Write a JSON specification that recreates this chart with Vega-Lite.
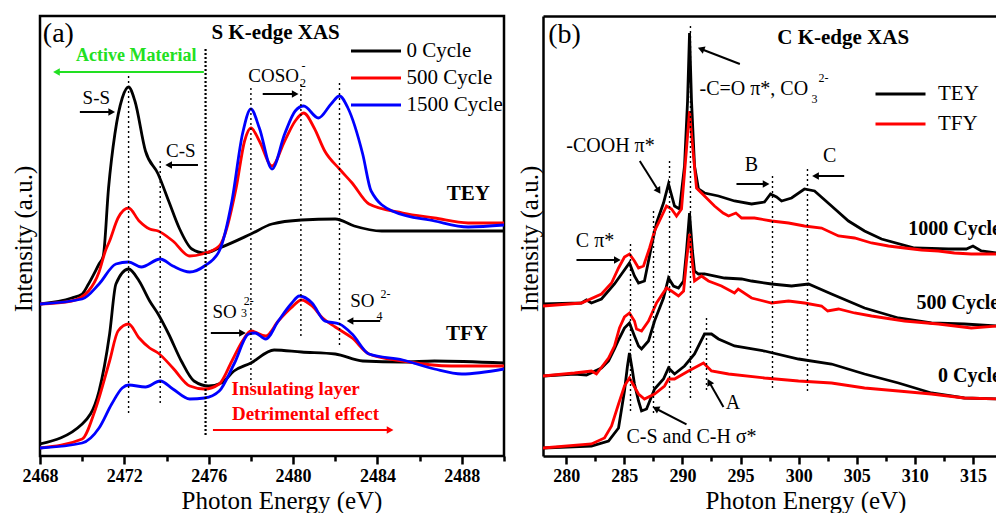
{
  "$schema": "https://vega.github.io/schema/vega-lite/v6.json",
  "padding": {"left": 10, "top": 14, "right": 0, "bottom": 0},
  "spacing": 39,
  "bounds": "flush",
  "resolve": {"scale": {"color": "independent"}},
  "config": {
    "font": "Liberation Serif, Times New Roman, serif",
    "text": {"font": "Liberation Serif, Times New Roman, serif"},
    "axis": {"grid": false, "domainColor": "black", "domainWidth": 2.5, "tickColor": "black", "tickWidth": 2.5, "labelColor": "black", "titleColor": "black", "labelFont": "Liberation Serif, Times New Roman, serif", "titleFont": "Liberation Serif, Times New Roman, serif", "labelFontSize": 18, "labelFontWeight": "bold", "titleFontSize": 25, "titleFontWeight": "normal", "labelPadding": 3, "labelFlush": false, "labelOverlap": false},
    "legend": {"labelFont": "Liberation Serif, Times New Roman, serif", "labelColor": "black", "labelFontSize": 21, "padding": 0, "title": null}
  },
  "datasets": {
    "sk": [
      {"E":2468,"I":15.4,"cycle":"0 Cycle","mode":"TEY"},{"E":2469.5,"I":16.0,"cycle":"0 Cycle","mode":"TEY"},{"E":2470,"I":16.4,"cycle":"0 Cycle","mode":"TEY"},{"E":2470.3,"I":17.4,"cycle":"0 Cycle","mode":"TEY"},{"E":2470.8,"I":19.4,"cycle":"0 Cycle","mode":"TEY"},{"E":2471.0,"I":20.2,"cycle":"0 Cycle","mode":"TEY"},{"E":2471.25,"I":27.0,"cycle":"0 Cycle","mode":"TEY"},{"E":2471.55,"I":32.4,"cycle":"0 Cycle","mode":"TEY"},{"E":2471.9,"I":36.0,"cycle":"0 Cycle","mode":"TEY"},{"E":2472.2,"I":37.1,"cycle":"0 Cycle","mode":"TEY"},{"E":2472.5,"I":35.7,"cycle":"0 Cycle","mode":"TEY"},{"E":2473.0,"I":30.7,"cycle":"0 Cycle","mode":"TEY"},{"E":2473.6,"I":28.4,"cycle":"0 Cycle","mode":"TEY"},{"E":2474.1,"I":25.7,"cycle":"0 Cycle","mode":"TEY"},{"E":2474.6,"I":23.0,"cycle":"0 Cycle","mode":"TEY"},{"E":2475.2,"I":20.9,"cycle":"0 Cycle","mode":"TEY"},{"E":2475.8,"I":20.5,"cycle":"0 Cycle","mode":"TEY"},{"E":2476.5,"I":21.0,"cycle":"0 Cycle","mode":"TEY"},{"E":2478.0,"I":22.4,"cycle":"0 Cycle","mode":"TEY"},{"E":2479.0,"I":23.4,"cycle":"0 Cycle","mode":"TEY"},{"E":2480.4,"I":23.8,"cycle":"0 Cycle","mode":"TEY"},{"E":2482.0,"I":23.9,"cycle":"0 Cycle","mode":"TEY"},{"E":2482.9,"I":23.2,"cycle":"0 Cycle","mode":"TEY"},{"E":2484.2,"I":22.7,"cycle":"0 Cycle","mode":"TEY"},{"E":2490,"I":22.7,"cycle":"0 Cycle","mode":"TEY"},
      {"E":2468,"I":1.4,"cycle":"0 Cycle","mode":"TFY"},{"E":2470,"I":3.4,"cycle":"0 Cycle","mode":"TFY"},{"E":2470.8,"I":6.7,"cycle":"0 Cycle","mode":"TFY"},{"E":2471.3,"I":12.4,"cycle":"0 Cycle","mode":"TFY"},{"E":2471.6,"I":17.4,"cycle":"0 Cycle","mode":"TFY"},{"E":2472.2,"I":18.9,"cycle":"0 Cycle","mode":"TFY"},{"E":2472.7,"I":17.7,"cycle":"0 Cycle","mode":"TFY"},{"E":2473.2,"I":15.7,"cycle":"0 Cycle","mode":"TFY"},{"E":2473.6,"I":14.4,"cycle":"0 Cycle","mode":"TFY"},{"E":2474.1,"I":12.4,"cycle":"0 Cycle","mode":"TFY"},{"E":2474.7,"I":9.7,"cycle":"0 Cycle","mode":"TFY"},{"E":2475.3,"I":7.7,"cycle":"0 Cycle","mode":"TFY"},{"E":2476.0,"I":7.2,"cycle":"0 Cycle","mode":"TFY"},{"E":2476.6,"I":7.5,"cycle":"0 Cycle","mode":"TFY"},{"E":2477.2,"I":8.7,"cycle":"0 Cycle","mode":"TFY"},{"E":2478.0,"I":9.5,"cycle":"0 Cycle","mode":"TFY"},{"E":2479.1,"I":10.8,"cycle":"0 Cycle","mode":"TFY"},{"E":2480.4,"I":10.6,"cycle":"0 Cycle","mode":"TFY"},{"E":2482.0,"I":10.4,"cycle":"0 Cycle","mode":"TFY"},{"E":2483.3,"I":9.7,"cycle":"0 Cycle","mode":"TFY"},{"E":2485.2,"I":9.6,"cycle":"0 Cycle","mode":"TFY"},{"E":2486.7,"I":9.7,"cycle":"0 Cycle","mode":"TFY"},{"E":2490,"I":9.5,"cycle":"0 Cycle","mode":"TFY"},
      {"E":2468,"I":15.4,"cycle":"500 Cycle","mode":"TEY"},{"E":2469.5,"I":15.7,"cycle":"500 Cycle","mode":"TEY"},{"E":2470.3,"I":16.7,"cycle":"500 Cycle","mode":"TEY"},{"E":2470.8,"I":18.6,"cycle":"500 Cycle","mode":"TEY"},{"E":2471.1,"I":20.7,"cycle":"500 Cycle","mode":"TEY"},{"E":2471.3,"I":21.7,"cycle":"500 Cycle","mode":"TEY"},{"E":2471.7,"I":24.0,"cycle":"500 Cycle","mode":"TEY"},{"E":2472.2,"I":25.0,"cycle":"500 Cycle","mode":"TEY"},{"E":2472.7,"I":23.7,"cycle":"500 Cycle","mode":"TEY"},{"E":2473.2,"I":22.9,"cycle":"500 Cycle","mode":"TEY"},{"E":2473.6,"I":22.7,"cycle":"500 Cycle","mode":"TEY"},{"E":2474.3,"I":21.7,"cycle":"500 Cycle","mode":"TEY"},{"E":2475.1,"I":20.2,"cycle":"500 Cycle","mode":"TEY"},{"E":2475.7,"I":20.4,"cycle":"500 Cycle","mode":"TEY"},{"E":2476.5,"I":21.2,"cycle":"500 Cycle","mode":"TEY"},{"E":2477.3,"I":27.0,"cycle":"500 Cycle","mode":"TEY"},{"E":2477.7,"I":31.7,"cycle":"500 Cycle","mode":"TEY"},{"E":2478.0,"I":33.0,"cycle":"500 Cycle","mode":"TEY"},{"E":2478.4,"I":31.7,"cycle":"500 Cycle","mode":"TEY"},{"E":2479.0,"I":29.2,"cycle":"500 Cycle","mode":"TEY"},{"E":2479.6,"I":31.7,"cycle":"500 Cycle","mode":"TEY"},{"E":2480.1,"I":33.7,"cycle":"500 Cycle","mode":"TEY"},{"E":2480.5,"I":34.5,"cycle":"500 Cycle","mode":"TEY"},{"E":2481.0,"I":33.0,"cycle":"500 Cycle","mode":"TEY"},{"E":2481.5,"I":30.7,"cycle":"500 Cycle","mode":"TEY"},{"E":2482.2,"I":28.9,"cycle":"500 Cycle","mode":"TEY"},{"E":2482.8,"I":27.5,"cycle":"500 Cycle","mode":"TEY"},{"E":2483.6,"I":25.4,"cycle":"500 Cycle","mode":"TEY"},{"E":2485.2,"I":24.5,"cycle":"500 Cycle","mode":"TEY"},{"E":2486.7,"I":24.0,"cycle":"500 Cycle","mode":"TEY"},{"E":2488.3,"I":23.5,"cycle":"500 Cycle","mode":"TEY"},{"E":2490,"I":23.5,"cycle":"500 Cycle","mode":"TEY"},
      {"E":2468,"I":1.0,"cycle":"500 Cycle","mode":"TFY"},{"E":2470,"I":1.9,"cycle":"500 Cycle","mode":"TFY"},{"E":2470.6,"I":4.7,"cycle":"500 Cycle","mode":"TFY"},{"E":2471.3,"I":9.7,"cycle":"500 Cycle","mode":"TFY"},{"E":2471.7,"I":12.7,"cycle":"500 Cycle","mode":"TFY"},{"E":2472.2,"I":13.4,"cycle":"500 Cycle","mode":"TFY"},{"E":2472.7,"I":12.0,"cycle":"500 Cycle","mode":"TFY"},{"E":2473.2,"I":11.0,"cycle":"500 Cycle","mode":"TFY"},{"E":2473.6,"I":10.5,"cycle":"500 Cycle","mode":"TFY"},{"E":2474.3,"I":9.0,"cycle":"500 Cycle","mode":"TFY"},{"E":2475.1,"I":7.2,"cycle":"500 Cycle","mode":"TFY"},{"E":2475.8,"I":6.9,"cycle":"500 Cycle","mode":"TFY"},{"E":2476.5,"I":7.4,"cycle":"500 Cycle","mode":"TFY"},{"E":2477.1,"I":9.7,"cycle":"500 Cycle","mode":"TFY"},{"E":2477.6,"I":11.7,"cycle":"500 Cycle","mode":"TFY"},{"E":2478.0,"I":12.7,"cycle":"500 Cycle","mode":"TFY"},{"E":2478.7,"I":12.2,"cycle":"500 Cycle","mode":"TFY"},{"E":2479.3,"I":13.7,"cycle":"500 Cycle","mode":"TFY"},{"E":2479.9,"I":15.0,"cycle":"500 Cycle","mode":"TFY"},{"E":2480.4,"I":15.8,"cycle":"500 Cycle","mode":"TFY"},{"E":2480.9,"I":15.2,"cycle":"500 Cycle","mode":"TFY"},{"E":2481.4,"I":14.0,"cycle":"500 Cycle","mode":"TFY"},{"E":2482.0,"I":13.1,"cycle":"500 Cycle","mode":"TFY"},{"E":2482.8,"I":12.0,"cycle":"500 Cycle","mode":"TFY"},{"E":2483.6,"I":10.4,"cycle":"500 Cycle","mode":"TFY"},{"E":2485.2,"I":9.7,"cycle":"500 Cycle","mode":"TFY"},{"E":2487.5,"I":9.2,"cycle":"500 Cycle","mode":"TFY"},{"E":2490,"I":9.2,"cycle":"500 Cycle","mode":"TFY"},
      {"E":2468,"I":15.4,"cycle":"1500 Cycle","mode":"TEY"},{"E":2470,"I":15.9,"cycle":"1500 Cycle","mode":"TEY"},{"E":2470.8,"I":17.4,"cycle":"1500 Cycle","mode":"TEY"},{"E":2471.6,"I":19.4,"cycle":"1500 Cycle","mode":"TEY"},{"E":2472.2,"I":19.6,"cycle":"1500 Cycle","mode":"TEY"},{"E":2472.8,"I":19.1,"cycle":"1500 Cycle","mode":"TEY"},{"E":2473.7,"I":19.9,"cycle":"1500 Cycle","mode":"TEY"},{"E":2474.3,"I":19.2,"cycle":"1500 Cycle","mode":"TEY"},{"E":2475.1,"I":18.6,"cycle":"1500 Cycle","mode":"TEY"},{"E":2475.8,"I":19.2,"cycle":"1500 Cycle","mode":"TEY"},{"E":2476.5,"I":20.7,"cycle":"1500 Cycle","mode":"TEY"},{"E":2477.1,"I":25.7,"cycle":"1500 Cycle","mode":"TEY"},{"E":2477.6,"I":32.4,"cycle":"1500 Cycle","mode":"TEY"},{"E":2478.0,"I":34.9,"cycle":"1500 Cycle","mode":"TEY"},{"E":2478.4,"I":33.0,"cycle":"1500 Cycle","mode":"TEY"},{"E":2479.0,"I":28.9,"cycle":"1500 Cycle","mode":"TEY"},{"E":2479.6,"I":32.4,"cycle":"1500 Cycle","mode":"TEY"},{"E":2480.1,"I":34.7,"cycle":"1500 Cycle","mode":"TEY"},{"E":2480.5,"I":35.2,"cycle":"1500 Cycle","mode":"TEY"},{"E":2481.2,"I":34.0,"cycle":"1500 Cycle","mode":"TEY"},{"E":2481.8,"I":35.4,"cycle":"1500 Cycle","mode":"TEY"},{"E":2482.2,"I":36.2,"cycle":"1500 Cycle","mode":"TEY"},{"E":2482.6,"I":35.0,"cycle":"1500 Cycle","mode":"TEY"},{"E":2483.3,"I":30.4,"cycle":"1500 Cycle","mode":"TEY"},{"E":2483.7,"I":26.7,"cycle":"1500 Cycle","mode":"TEY"},{"E":2484.7,"I":24.7,"cycle":"1500 Cycle","mode":"TEY"},{"E":2486.7,"I":23.7,"cycle":"1500 Cycle","mode":"TEY"},{"E":2488.3,"I":23.1,"cycle":"1500 Cycle","mode":"TEY"},{"E":2490,"I":23.3,"cycle":"1500 Cycle","mode":"TEY"},
      {"E":2468,"I":1.0,"cycle":"1500 Cycle","mode":"TFY"},{"E":2470,"I":1.5,"cycle":"1500 Cycle","mode":"TFY"},{"E":2470.8,"I":3.0,"cycle":"1500 Cycle","mode":"TFY"},{"E":2471.4,"I":5.4,"cycle":"1500 Cycle","mode":"TFY"},{"E":2471.9,"I":7.0,"cycle":"1500 Cycle","mode":"TFY"},{"E":2472.2,"I":7.3,"cycle":"1500 Cycle","mode":"TFY"},{"E":2473.0,"I":7.1,"cycle":"1500 Cycle","mode":"TFY"},{"E":2473.7,"I":7.7,"cycle":"1500 Cycle","mode":"TFY"},{"E":2474.3,"I":6.9,"cycle":"1500 Cycle","mode":"TFY"},{"E":2475.1,"I":5.9,"cycle":"1500 Cycle","mode":"TFY"},{"E":2475.8,"I":6.0,"cycle":"1500 Cycle","mode":"TFY"},{"E":2476.5,"I":6.7,"cycle":"1500 Cycle","mode":"TFY"},{"E":2477.2,"I":9.4,"cycle":"1500 Cycle","mode":"TFY"},{"E":2477.9,"I":12.4,"cycle":"1500 Cycle","mode":"TFY"},{"E":2478.2,"I":12.5,"cycle":"1500 Cycle","mode":"TFY"},{"E":2478.7,"I":11.9,"cycle":"1500 Cycle","mode":"TFY"},{"E":2479.3,"I":13.7,"cycle":"1500 Cycle","mode":"TFY"},{"E":2479.9,"I":15.4,"cycle":"1500 Cycle","mode":"TFY"},{"E":2480.3,"I":16.2,"cycle":"1500 Cycle","mode":"TFY"},{"E":2480.9,"I":15.5,"cycle":"1500 Cycle","mode":"TFY"},{"E":2481.5,"I":13.7,"cycle":"1500 Cycle","mode":"TFY"},{"E":2482.2,"I":13.4,"cycle":"1500 Cycle","mode":"TFY"},{"E":2482.8,"I":12.4,"cycle":"1500 Cycle","mode":"TFY"},{"E":2483.6,"I":10.4,"cycle":"1500 Cycle","mode":"TFY"},{"E":2485.2,"I":9.8,"cycle":"1500 Cycle","mode":"TFY"},{"E":2486.7,"I":8.9,"cycle":"1500 Cycle","mode":"TFY"},{"E":2488.0,"I":8.4,"cycle":"1500 Cycle","mode":"TFY"},{"E":2490,"I":8.9,"cycle":"1500 Cycle","mode":"TFY"}
    ],
    "va": [
      {"x":2472.2,"y":38.2,"y2":4.2,"kind":"peak"},
      {"x":2473.7,"y":29.7,"y2":5.4,"kind":"peak"},
      {"x":2475.85,"y":40.9,"y2":2.2,"kind":"boundary"},
      {"x":2478.0,"y":37.0,"y2":7.2,"kind":"peak"},
      {"x":2480.37,"y":37.4,"y2":12.0,"kind":"peak"},
      {"x":2482.2,"y":37.5,"y2":11.0,"kind":"peak"}
    ],
    "aa": [
      {"x":2475.77,"y":38.6,"x2":2468.78,"y2":38.6,"angle":270,"tone":"active"},
      {"x":2469.89,"y":34.6,"x2":2471.4,"y2":34.6,"angle":90,"tone":"label"},
      {"x":2475.49,"y":29.3,"x2":2474.1,"y2":29.3,"angle":270,"tone":"label"},
      {"x":2478.56,"y":36.4,"x2":2480.1,"y2":36.4,"angle":90,"tone":"label"},
      {"x":2476.1,"y":12.5,"x2":2477.6,"y2":12.5,"angle":90,"tone":"label"},
      {"x":2484.13,"y":13.7,"x2":2482.7,"y2":13.7,"angle":270,"tone":"label"},
      {"x":2476.2,"y":2.8,"x2":2484.6,"y2":2.8,"angle":90,"tone":"detriment"}
    ],
    "ta": [
      {"x":2468.87,"y":42.4,"text":"(a)","kind":"panel"},
      {"x":2479.17,"y":42.5,"text":"S K-edge XAS","kind":"title"},
      {"x":2472.56,"y":40.2,"text":"Active Material","kind":"active"},
      {"x":2470.67,"y":36.05,"text":"S-S","kind":"label"},
      {"x":2474.68,"y":30.7,"text":"C-S","kind":"label"},
      {"x":2479.08,"y":38.25,"text":"COSO","kind":"label"},
      {"x":2480.33,"y":37.5,"text":"2","kind":"script"},
      {"x":2480.4,"y":39.2,"text":"-","kind":"script"},
      {"x":2476.75,"y":14.6,"text":"SO","kind":"label"},
      {"x":2477.53,"y":14.5,"text":"3","kind":"script"},
      {"x":2477.66,"y":15.7,"text":"2-","kind":"script"},
      {"x":2483.28,"y":15.7,"text":"SO","kind":"label"},
      {"x":2483.96,"y":14.2,"text":"4","kind":"script"},
      {"x":2484.15,"y":16.4,"text":"2-","kind":"script"},
      {"x":2488.31,"y":26.45,"text":"TEY","kind":"mode"},
      {"x":2488.24,"y":12.45,"text":"TFY","kind":"mode"},
      {"x":2480.12,"y":6.9,"text":"Insulating layer","kind":"detriment"},
      {"x":2480.59,"y":4.4,"text":"Detrimental effect","kind":"detriment"}
    ],
    "kc": [
      {"E":278.0,"I":15.4,"mode":"TEY","cycle":"1000"},{"E":281.31,"I":15.5,"mode":"TEY","cycle":"1000"},{"E":281.74,"I":15.8,"mode":"TEY","cycle":"1000"},{"E":282.17,"I":15.5,"mode":"TEY","cycle":"1000"},{"E":283.03,"I":15.9,"mode":"TEY","cycle":"1000"},{"E":284.15,"I":17.4,"mode":"TEY","cycle":"1000"},{"E":284.76,"I":18.4,"mode":"TEY","cycle":"1000"},{"E":285.44,"I":19.5,"mode":"TEY","cycle":"1000"},{"E":285.87,"I":18.2,"mode":"TEY","cycle":"1000"},{"E":286.22,"I":17.5,"mode":"TEY","cycle":"1000"},{"E":286.73,"I":17.7,"mode":"TEY","cycle":"1000"},{"E":287.34,"I":21.2,"mode":"TEY","cycle":"1000"},{"E":287.77,"I":23.5,"mode":"TEY","cycle":"1000"},{"E":288.37,"I":25.5,"mode":"TEY","cycle":"1000"},{"E":288.8,"I":27.4,"mode":"TEY","cycle":"1000"},{"E":289.32,"I":25.2,"mode":"TEY","cycle":"1000"},{"E":289.75,"I":24.9,"mode":"TEY","cycle":"1000"},{"E":290.18,"I":29.2,"mode":"TEY","cycle":"1000"},{"E":290.44,"I":35.7,"mode":"TEY","cycle":"1000"},{"E":290.61,"I":42.5,"mode":"TEY","cycle":"1000"},{"E":290.78,"I":35.7,"mode":"TEY","cycle":"1000"},{"E":291.04,"I":29.2,"mode":"TEY","cycle":"1000"},{"E":291.38,"I":26.9,"mode":"TEY","cycle":"1000"},{"E":291.9,"I":26.5,"mode":"TEY","cycle":"1000"},{"E":293.1,"I":26.2,"mode":"TEY","cycle":"1000"},{"E":294.48,"I":25.7,"mode":"TEY","cycle":"1000"},{"E":295.95,"I":25.4,"mode":"TEY","cycle":"1000"},{"E":297.06,"I":25.6,"mode":"TEY","cycle":"1000"},{"E":297.58,"I":26.4,"mode":"TEY","cycle":"1000"},{"E":298.1,"I":26.1,"mode":"TEY","cycle":"1000"},{"E":298.53,"I":25.7,"mode":"TEY","cycle":"1000"},{"E":299.39,"I":26.0,"mode":"TEY","cycle":"1000"},{"E":300.5,"I":26.9,"mode":"TEY","cycle":"1000"},{"E":301.37,"I":26.7,"mode":"TEY","cycle":"1000"},{"E":302.83,"I":25.2,"mode":"TEY","cycle":"1000"},{"E":304.29,"I":23.7,"mode":"TEY","cycle":"1000"},{"E":305.67,"I":22.7,"mode":"TEY","cycle":"1000"},{"E":307.13,"I":21.9,"mode":"TEY","cycle":"1000"},{"E":309.97,"I":21.0,"mode":"TEY","cycle":"1000"},{"E":312.89,"I":20.9,"mode":"TEY","cycle":"1000"},{"E":314.43,"I":20.9,"mode":"TEY","cycle":"1000"},{"E":315.0,"I":21.2,"mode":"TEY","cycle":"1000"},{"E":315.72,"I":20.7,"mode":"TEY","cycle":"1000"},{"E":317.1,"I":20.5,"mode":"TEY","cycle":"1000"},
      {"E":278.0,"I":8.2,"mode":"TEY","cycle":"500"},{"E":280.71,"I":8.4,"mode":"TEY","cycle":"500"},{"E":281.74,"I":8.3,"mode":"TEY","cycle":"500"},{"E":283.03,"I":9.0,"mode":"TEY","cycle":"500"},{"E":283.64,"I":9.7,"mode":"TEY","cycle":"500"},{"E":284.15,"I":10.9,"mode":"TEY","cycle":"500"},{"E":284.58,"I":12.0,"mode":"TEY","cycle":"500"},{"E":285.01,"I":13.0,"mode":"TEY","cycle":"500"},{"E":285.44,"I":13.5,"mode":"TEY","cycle":"500"},{"E":285.87,"I":12.2,"mode":"TEY","cycle":"500"},{"E":286.22,"I":11.2,"mode":"TEY","cycle":"500"},{"E":286.48,"I":10.9,"mode":"TEY","cycle":"500"},{"E":287.08,"I":11.7,"mode":"TEY","cycle":"500"},{"E":287.6,"I":13.7,"mode":"TEY","cycle":"500"},{"E":288.37,"I":16.0,"mode":"TEY","cycle":"500"},{"E":288.8,"I":18.0,"mode":"TEY","cycle":"500"},{"E":289.23,"I":17.2,"mode":"TEY","cycle":"500"},{"E":289.66,"I":17.0,"mode":"TEY","cycle":"500"},{"E":290.1,"I":17.7,"mode":"TEY","cycle":"500"},{"E":290.35,"I":20.7,"mode":"TEY","cycle":"500"},{"E":290.61,"I":24.5,"mode":"TEY","cycle":"500"},{"E":290.86,"I":20.7,"mode":"TEY","cycle":"500"},{"E":291.04,"I":18.7,"mode":"TEY","cycle":"500"},{"E":291.38,"I":18.4,"mode":"TEY","cycle":"500"},{"E":291.9,"I":18.4,"mode":"TEY","cycle":"500"},{"E":293.62,"I":18.0,"mode":"TEY","cycle":"500"},{"E":295.09,"I":17.9,"mode":"TEY","cycle":"500"},{"E":295.95,"I":17.7,"mode":"TEY","cycle":"500"},{"E":297.67,"I":17.4,"mode":"TEY","cycle":"500"},{"E":299.39,"I":17.2,"mode":"TEY","cycle":"500"},{"E":300.85,"I":17.4,"mode":"TEY","cycle":"500"},{"E":302.83,"I":16.4,"mode":"TEY","cycle":"500"},{"E":305.67,"I":15.0,"mode":"TEY","cycle":"500"},{"E":308.59,"I":14.0,"mode":"TEY","cycle":"500"},{"E":311.43,"I":13.5,"mode":"TEY","cycle":"500"},{"E":314.26,"I":13.4,"mode":"TEY","cycle":"500"},{"E":317.1,"I":13.2,"mode":"TEY","cycle":"500"},
      {"E":278.0,"I":1.0,"mode":"TEY","cycle":"0"},{"E":282.17,"I":1.2,"mode":"TEY","cycle":"0"},{"E":283.64,"I":1.7,"mode":"TEY","cycle":"0"},{"E":284.5,"I":3.0,"mode":"TEY","cycle":"0"},{"E":285.01,"I":6.7,"mode":"TEY","cycle":"0"},{"E":285.27,"I":9.2,"mode":"TEY","cycle":"0"},{"E":285.44,"I":10.5,"mode":"TEY","cycle":"0"},{"E":285.7,"I":8.7,"mode":"TEY","cycle":"0"},{"E":285.87,"I":7.4,"mode":"TEY","cycle":"0"},{"E":286.22,"I":5.7,"mode":"TEY","cycle":"0"},{"E":286.48,"I":4.7,"mode":"TEY","cycle":"0"},{"E":286.91,"I":4.9,"mode":"TEY","cycle":"0"},{"E":287.6,"I":6.9,"mode":"TEY","cycle":"0"},{"E":288.37,"I":7.9,"mode":"TEY","cycle":"0"},{"E":288.8,"I":9.0,"mode":"TEY","cycle":"0"},{"E":289.32,"I":8.4,"mode":"TEY","cycle":"0"},{"E":290.18,"I":9.2,"mode":"TEY","cycle":"0"},{"E":291.04,"I":10.4,"mode":"TEY","cycle":"0"},{"E":291.9,"I":12.4,"mode":"TEY","cycle":"0"},{"E":292.5,"I":12.4,"mode":"TEY","cycle":"0"},{"E":293.1,"I":11.9,"mode":"TEY","cycle":"0"},{"E":294.48,"I":11.2,"mode":"TEY","cycle":"0"},{"E":297.06,"I":10.7,"mode":"TEY","cycle":"0"},{"E":299.99,"I":9.9,"mode":"TEY","cycle":"0"},{"E":302.83,"I":9.4,"mode":"TEY","cycle":"0"},{"E":305.67,"I":8.4,"mode":"TEY","cycle":"0"},{"E":308.59,"I":7.5,"mode":"TEY","cycle":"0"},{"E":311.43,"I":6.5,"mode":"TEY","cycle":"0"},{"E":314.26,"I":6.0,"mode":"TEY","cycle":"0"},{"E":317.1,"I":5.9,"mode":"TEY","cycle":"0"},
      {"E":278.0,"I":15.2,"mode":"TFY","cycle":"1000"},{"E":281.31,"I":15.5,"mode":"TFY","cycle":"1000"},{"E":283.03,"I":16.4,"mode":"TFY","cycle":"1000"},{"E":283.9,"I":17.5,"mode":"TFY","cycle":"1000"},{"E":284.5,"I":19.0,"mode":"TFY","cycle":"1000"},{"E":285.01,"I":20.1,"mode":"TFY","cycle":"1000"},{"E":285.44,"I":20.4,"mode":"TFY","cycle":"1000"},{"E":285.87,"I":19.7,"mode":"TFY","cycle":"1000"},{"E":286.22,"I":19.0,"mode":"TFY","cycle":"1000"},{"E":286.65,"I":19.2,"mode":"TFY","cycle":"1000"},{"E":287.17,"I":21.0,"mode":"TFY","cycle":"1000"},{"E":287.6,"I":22.7,"mode":"TFY","cycle":"1000"},{"E":287.94,"I":23.5,"mode":"TFY","cycle":"1000"},{"E":288.63,"I":25.2,"mode":"TFY","cycle":"1000"},{"E":289.06,"I":24.9,"mode":"TFY","cycle":"1000"},{"E":289.49,"I":24.2,"mode":"TFY","cycle":"1000"},{"E":289.92,"I":24.9,"mode":"TFY","cycle":"1000"},{"E":290.35,"I":30.9,"mode":"TFY","cycle":"1000"},{"E":290.61,"I":34.7,"mode":"TFY","cycle":"1000"},{"E":290.95,"I":30.2,"mode":"TFY","cycle":"1000"},{"E":291.21,"I":27.0,"mode":"TFY","cycle":"1000"},{"E":291.9,"I":26.2,"mode":"TFY","cycle":"1000"},{"E":292.76,"I":25.2,"mode":"TFY","cycle":"1000"},{"E":293.5,"I":24.5,"mode":"TFY","cycle":"1000"},{"E":293.97,"I":24.2,"mode":"TFY","cycle":"1000"},{"E":294.6,"I":24.5,"mode":"TFY","cycle":"1000"},{"E":295.09,"I":24.0,"mode":"TFY","cycle":"1000"},{"E":296.2,"I":24.0,"mode":"TFY","cycle":"1000"},{"E":297.67,"I":23.7,"mode":"TFY","cycle":"1000"},{"E":299.13,"I":23.5,"mode":"TFY","cycle":"1000"},{"E":300.5,"I":23.2,"mode":"TFY","cycle":"1000"},{"E":301.97,"I":23.0,"mode":"TFY","cycle":"1000"},{"E":303.43,"I":22.2,"mode":"TFY","cycle":"1000"},{"E":304.81,"I":22.0,"mode":"TFY","cycle":"1000"},{"E":306.27,"I":21.5,"mode":"TFY","cycle":"1000"},{"E":307.73,"I":21.2,"mode":"TFY","cycle":"1000"},{"E":309.11,"I":21.0,"mode":"TFY","cycle":"1000"},{"E":310.57,"I":20.8,"mode":"TFY","cycle":"1000"},{"E":312.03,"I":20.7,"mode":"TFY","cycle":"1000"},{"E":313.4,"I":20.5,"mode":"TFY","cycle":"1000"},{"E":314.86,"I":20.4,"mode":"TFY","cycle":"1000"},{"E":317.1,"I":20.4,"mode":"TFY","cycle":"1000"},
      {"E":278.0,"I":8.2,"mode":"TFY","cycle":"500"},{"E":280.71,"I":8.5,"mode":"TFY","cycle":"500"},{"E":282.17,"I":8.7,"mode":"TFY","cycle":"500"},{"E":282.6,"I":8.4,"mode":"TFY","cycle":"500"},{"E":283.64,"I":10.0,"mode":"TFY","cycle":"500"},{"E":284.15,"I":11.2,"mode":"TFY","cycle":"500"},{"E":284.58,"I":13.0,"mode":"TFY","cycle":"500"},{"E":285.01,"I":14.1,"mode":"TFY","cycle":"500"},{"E":285.44,"I":14.5,"mode":"TFY","cycle":"500"},{"E":285.87,"I":13.7,"mode":"TFY","cycle":"500"},{"E":286.05,"I":12.9,"mode":"TFY","cycle":"500"},{"E":286.48,"I":12.7,"mode":"TFY","cycle":"500"},{"E":287.08,"I":13.7,"mode":"TFY","cycle":"500"},{"E":287.77,"I":15.5,"mode":"TFY","cycle":"500"},{"E":288.63,"I":17.0,"mode":"TFY","cycle":"500"},{"E":289.06,"I":16.7,"mode":"TFY","cycle":"500"},{"E":289.66,"I":16.2,"mode":"TFY","cycle":"500"},{"E":290.1,"I":16.7,"mode":"TFY","cycle":"500"},{"E":290.35,"I":19.7,"mode":"TFY","cycle":"500"},{"E":290.61,"I":22.4,"mode":"TFY","cycle":"500"},{"E":290.86,"I":19.5,"mode":"TFY","cycle":"500"},{"E":291.04,"I":17.7,"mode":"TFY","cycle":"500"},{"E":291.64,"I":18.2,"mode":"TFY","cycle":"500"},{"E":292.24,"I":17.7,"mode":"TFY","cycle":"500"},{"E":293.36,"I":17.2,"mode":"TFY","cycle":"500"},{"E":294.48,"I":16.5,"mode":"TFY","cycle":"500"},{"E":294.8,"I":16.9,"mode":"TFY","cycle":"500"},{"E":295.95,"I":16.0,"mode":"TFY","cycle":"500"},{"E":297.67,"I":15.5,"mode":"TFY","cycle":"500"},{"E":299.13,"I":15.7,"mode":"TFY","cycle":"500"},{"E":300.5,"I":15.5,"mode":"TFY","cycle":"500"},{"E":301.97,"I":15.2,"mode":"TFY","cycle":"500"},{"E":302.5,"I":14.7,"mode":"TFY","cycle":"500"},{"E":303.43,"I":14.9,"mode":"TFY","cycle":"500"},{"E":304.81,"I":14.5,"mode":"TFY","cycle":"500"},{"E":306.27,"I":14.2,"mode":"TFY","cycle":"500"},{"E":309.11,"I":13.7,"mode":"TFY","cycle":"500"},{"E":312.03,"I":13.4,"mode":"TFY","cycle":"500"},{"E":314.86,"I":13.0,"mode":"TFY","cycle":"500"},{"E":317.1,"I":13.2,"mode":"TFY","cycle":"500"},
      {"E":278.0,"I":1.0,"mode":"TFY","cycle":"0"},{"E":282.17,"I":1.4,"mode":"TFY","cycle":"0"},{"E":283.29,"I":2.0,"mode":"TFY","cycle":"0"},{"E":283.9,"I":3.2,"mode":"TFY","cycle":"0"},{"E":284.5,"I":5.4,"mode":"TFY","cycle":"0"},{"E":285.01,"I":7.2,"mode":"TFY","cycle":"0"},{"E":285.44,"I":8.0,"mode":"TFY","cycle":"0"},{"E":286.22,"I":6.4,"mode":"TFY","cycle":"0"},{"E":286.73,"I":5.9,"mode":"TFY","cycle":"0"},{"E":287.6,"I":6.4,"mode":"TFY","cycle":"0"},{"E":288.46,"I":7.2,"mode":"TFY","cycle":"0"},{"E":288.8,"I":7.9,"mode":"TFY","cycle":"0"},{"E":289.32,"I":7.9,"mode":"TFY","cycle":"0"},{"E":290.52,"I":8.7,"mode":"TFY","cycle":"0"},{"E":291.81,"I":9.5,"mode":"TFY","cycle":"0"},{"E":292.5,"I":8.7,"mode":"TFY","cycle":"0"},{"E":293.97,"I":8.4,"mode":"TFY","cycle":"0"},{"E":297.06,"I":8.0,"mode":"TFY","cycle":"0"},{"E":299.99,"I":7.7,"mode":"TFY","cycle":"0"},{"E":302.83,"I":7.5,"mode":"TFY","cycle":"0"},{"E":305.67,"I":7.0,"mode":"TFY","cycle":"0"},{"E":308.59,"I":6.7,"mode":"TFY","cycle":"0"},{"E":311.43,"I":6.4,"mode":"TFY","cycle":"0"},{"E":314.26,"I":6.0,"mode":"TFY","cycle":"0"},{"E":317.1,"I":5.9,"mode":"TFY","cycle":"0"}
    ],
    "vb": [
      {"x":285.53,"y":21.4,"y2":4.4},
      {"x":287.51,"y":24.7,"y2":4.2},
      {"x":288.89,"y":29.7,"y2":5.7},
      {"x":290.69,"y":43.2,"y2":6.0},
      {"x":292.07,"y":14.0,"y2":6.7},
      {"x":297.75,"y":28.2,"y2":6.7},
      {"x":300.76,"y":28.9,"y2":6.7}
    ],
    "ab": [
      {"x":294.94,"y":39.4,"x2":291.6,"y2":40.9,"angle":291},
      {"x":286.33,"y":29.7,"x2":287.95,"y2":26.7,"angle":148},
      {"x":280.88,"y":19.8,"x2":284.4,"y2":19.8,"angle":90},
      {"x":294.65,"y":27.4,"x2":297.2,"y2":27.4,"angle":90},
      {"x":303.92,"y":28.2,"x2":301.45,"y2":28.2,"angle":270},
      {"x":293.53,"y":5.1,"x2":292.3,"y2":7.6,"angle":332},
      {"x":290.35,"y":3.37,"x2":287.7,"y2":4.95,"angle":297}
    ],
    "tb": [
      {"x":279.85,"y":42.35,"text":"(b)","kind":"panel"},
      {"x":303.83,"y":42.05,"text":"C K-edge XAS","kind":"title"},
      {"x":291.47,"y":36.9,"text":"-C=O π*, CO","kind":"labelLeft"},
      {"x":301.11,"y":35.95,"text":"3","kind":"script"},
      {"x":301.71,"y":38.0,"text":"2-","kind":"script"},
      {"x":283.81,"y":31.2,"text":"-COOH π*","kind":"label"},
      {"x":282.48,"y":21.7,"text":"C π*","kind":"label"},
      {"x":295.94,"y":29.35,"text":"B","kind":"label"},
      {"x":302.66,"y":30.2,"text":"C","kind":"label"},
      {"x":294.35,"y":5.55,"text":"A","kind":"label"},
      {"x":290.78,"y":2.1,"text":"C-S and C-H σ*","kind":"label"},
      {"x":309.43,"y":22.9,"text":"1000 Cycle","kind":"cycle"},
      {"x":310.14,"y":15.5,"text":"500 Cycle","kind":"cycle"},
      {"x":312.0,"y":8.2,"text":"0 Cycle","kind":"cycle"}
    ]
  },
  "hconcat": [
    {
      "width": 464,
      "height": 440,
      "view": {"stroke": "black", "strokeWidth": 2.5},
      "resolve": {"scale": {"color": "independent"}, "axis": {"x": "independent", "y": "independent"}},
      "layer": [
        {
          "data": {"name": "sk"},
          "mark": {"type": "line", "strokeWidth": 2.8, "clip": true, "interpolate": "monotone"},
          "encoding": {
            "x": {"field": "E", "type": "quantitative", "scale": {"domain": [2468, 2490], "nice": false, "zero": false},
              "axis": {"values": [2468,2470,2472,2474,2476,2478,2480,2482,2484,2486,2488,2490], "format": "d",
                "labelExpr": "datum.value % 4 === 0 ? datum.label : ''",
                "tickSize": {"condition": {"test": "datum.value % 4 === 0", "value": 8}, "value": 5},
                "domain": false, "title": "Photon Energy (eV)", "titleX": 241.5, "titleY": 52, "titleBaseline": "alphabetic", "titleAlign": "center"}},
            "y": {"field": "I", "type": "quantitative", "scale": {"domain": [0.2, 44.2], "nice": false, "zero": false},
              "axis": {"title": "Intensity (a.u.)", "labels": false, "ticks": false, "domain": false, "titleX": -16.5, "titleY": 222.5, "titleAngle": 270, "titleBaseline": "middle", "titleAlign": "center"}},
            "color": {"field": "cycle", "type": "nominal", "scale": {"domain": ["0 Cycle", "500 Cycle", "1500 Cycle"], "range": ["#000000", "#ff0000", "#0000ff"]},
              "legend": {"orient": "none", "legendX": 325.5, "legendY": 24.5, "symbolType": "M-5,0H5", "symbolSize": 100, "symbolStrokeWidth": 3, "labelOffset": 20, "rowPadding": 5}},
            "detail": {"field": "mode"}
          }
        },
        {
          "data": {"name": "va"},
          "transform": [{"filter": "datum.kind == 'peak'"}],
          "mark": {"type": "rule", "color": "black", "strokeWidth": 1.4, "strokeDash": [2, 3]},
          "encoding": {"x": {"field": "x", "type": "quantitative", "axis": null}, "y": {"field": "y", "type": "quantitative", "axis": null}, "y2": {"field": "y2"}}
        },
        {
          "data": {"name": "va"},
          "transform": [{"filter": "datum.kind == 'boundary'"}],
          "mark": {"type": "rule", "color": "black", "strokeWidth": 2.2, "strokeDash": [2, 2]},
          "encoding": {"x": {"field": "x", "type": "quantitative", "axis": null}, "y": {"field": "y", "type": "quantitative", "axis": null}, "y2": {"field": "y2"}}
        },
        {
          "data": {"name": "aa"},
          "mark": {"type": "rule", "strokeWidth": 2},
          "encoding": {
            "x": {"field": "x", "type": "quantitative", "axis": null}, "y": {"field": "y", "type": "quantitative", "axis": null},
            "x2": {"field": "x2"}, "y2": {"field": "y2"},
            "color": {"field": "tone", "type": "nominal", "scale": {"domain": ["label", "active", "detriment"], "range": ["#000000", "#22e022", "#ff0000"]}, "legend": null}
          }
        },
        {
          "data": {"name": "aa"},
          "mark": {"type": "point", "shape": "triangle-up", "filled": true, "size": 60, "opacity": 1},
          "encoding": {
            "x": {"field": "x2", "type": "quantitative", "axis": null}, "y": {"field": "y2", "type": "quantitative", "axis": null},
            "angle": {"field": "angle", "type": "quantitative", "scale": null},
            "color": {"field": "tone", "type": "nominal", "scale": {"domain": ["label", "active", "detriment"], "range": ["#000000", "#22e022", "#ff0000"]}, "legend": null}
          }
        },
        {
          "data": {"name": "ta"},
          "transform": [{"filter": "datum.kind == 'panel'"}],
          "mark": {"type": "text", "fontSize": 28, "color": "black", "align": "center", "baseline": "middle"},
          "encoding": {"x": {"field": "x", "type": "quantitative", "axis": null}, "y": {"field": "y", "type": "quantitative", "axis": null}, "text": {"field": "text"}}
        },
        {
          "data": {"name": "ta"},
          "transform": [{"filter": "datum.kind == 'title' || datum.kind == 'mode'"}],
          "mark": {"type": "text", "fontSize": 21, "fontWeight": "bold", "color": "black", "align": "center", "baseline": "middle"},
          "encoding": {"x": {"field": "x", "type": "quantitative", "axis": null}, "y": {"field": "y", "type": "quantitative", "axis": null}, "text": {"field": "text"}}
        },
        {
          "data": {"name": "ta"},
          "transform": [{"filter": "datum.kind == 'active'"}],
          "mark": {"type": "text", "fontSize": 18, "fontWeight": "bold", "color": "#22e022", "align": "center", "baseline": "middle"},
          "encoding": {"x": {"field": "x", "type": "quantitative", "axis": null}, "y": {"field": "y", "type": "quantitative", "axis": null}, "text": {"field": "text"}}
        },
        {
          "data": {"name": "ta"},
          "transform": [{"filter": "datum.kind == 'detriment'"}],
          "mark": {"type": "text", "fontSize": 19, "fontWeight": "bold", "color": "#ff0000", "align": "center", "baseline": "middle"},
          "encoding": {"x": {"field": "x", "type": "quantitative", "axis": null}, "y": {"field": "y", "type": "quantitative", "axis": null}, "text": {"field": "text"}}
        },
        {
          "data": {"name": "ta"},
          "transform": [{"filter": "datum.kind == 'label'"}],
          "mark": {"type": "text", "fontSize": 19, "color": "black", "align": "center", "baseline": "middle"},
          "encoding": {"x": {"field": "x", "type": "quantitative", "axis": null}, "y": {"field": "y", "type": "quantitative", "axis": null}, "text": {"field": "text"}}
        },
        {
          "data": {"name": "ta"},
          "transform": [{"filter": "datum.kind == 'script'"}],
          "mark": {"type": "text", "fontSize": 12, "color": "black", "align": "left", "baseline": "middle"},
          "encoding": {"x": {"field": "x", "type": "quantitative", "axis": null}, "y": {"field": "y", "type": "quantitative", "axis": null}, "text": {"field": "text"}}
        }
      ]
    },
    {
      "width": 454,
      "height": 440,
      "view": {"stroke": null},
      "resolve": {"axis": {"x": "independent", "y": "independent"}},
      "layer": [
        {
          "data": {"name": "kc"},
          "mark": {"type": "line", "strokeWidth": 2.8, "clip": true},
          "encoding": {
            "x": {"field": "E", "type": "quantitative", "scale": {"domain": [278, 317.07], "nice": false, "zero": false},
              "axis": {"values": [280,282.5,285,287.5,290,292.5,295,297.5,300,302.5,305,307.5,310,312.5,315], "format": "d",
                "labelExpr": "datum.value % 5 === 0 ? datum.label : ''",
                "tickSize": {"condition": {"test": "datum.value % 5 === 0", "value": 8}, "value": 5},
                "domain": true, "title": "Photon Energy (eV)", "titleX": 262.5, "titleY": 52, "titleBaseline": "alphabetic", "titleAlign": "center"}},
            "y": {"field": "I", "type": "quantitative", "scale": {"domain": [0.2, 44.2], "nice": false, "zero": false},
              "axis": {"title": "Intensity (a.u.)", "labels": false, "ticks": false, "domain": true, "titleX": -14, "titleY": 222.5, "titleAngle": 270, "titleBaseline": "middle", "titleAlign": "center"}},
            "color": {"field": "mode", "type": "nominal", "scale": {"domain": ["TEY", "TFY"], "range": ["#000000", "#ff0000"]},
              "legend": {"orient": "none", "legendX": 347, "legendY": 67.5, "symbolType": "M-5,0H5", "symbolSize": 100, "symbolStrokeWidth": 3, "labelOffset": 27, "rowPadding": 8}},
            "detail": {"field": "cycle"}
          }
        },
        {
          "data": {"name": "vb"},
          "mark": {"type": "rule", "color": "black", "strokeWidth": 1.4, "strokeDash": [2, 3]},
          "encoding": {"x": {"field": "x", "type": "quantitative", "axis": {"orient": "top", "labels": false, "ticks": false, "title": null, "domain": true}}, "y": {"field": "y", "type": "quantitative", "axis": null}, "y2": {"field": "y2"}}
        },
        {
          "data": {"name": "ab"},
          "mark": {"type": "rule", "strokeWidth": 2, "color": "black"},
          "encoding": {"x": {"field": "x", "type": "quantitative", "axis": null}, "y": {"field": "y", "type": "quantitative", "axis": null}, "x2": {"field": "x2"}, "y2": {"field": "y2"}}
        },
        {
          "data": {"name": "ab"},
          "mark": {"type": "point", "shape": "triangle-up", "filled": true, "size": 60, "opacity": 1, "color": "black"},
          "encoding": {"x": {"field": "x2", "type": "quantitative", "axis": null}, "y": {"field": "y2", "type": "quantitative", "axis": null}, "angle": {"field": "angle", "type": "quantitative", "scale": null}}
        },
        {
          "data": {"name": "tb"},
          "transform": [{"filter": "datum.kind == 'panel'"}],
          "mark": {"type": "text", "fontSize": 28, "color": "black", "align": "center", "baseline": "middle"},
          "encoding": {"x": {"field": "x", "type": "quantitative", "axis": null}, "y": {"field": "y", "type": "quantitative", "axis": null}, "text": {"field": "text"}}
        },
        {
          "data": {"name": "tb"},
          "transform": [{"filter": "datum.kind == 'title'"}],
          "mark": {"type": "text", "fontSize": 21, "fontWeight": "bold", "color": "black", "align": "center", "baseline": "middle"},
          "encoding": {"x": {"field": "x", "type": "quantitative", "axis": null}, "y": {"field": "y", "type": "quantitative", "axis": null}, "text": {"field": "text"}}
        },
        {
          "data": {"name": "tb"},
          "transform": [{"filter": "datum.kind == 'label'"}],
          "mark": {"type": "text", "fontSize": 20, "color": "black", "align": "center", "baseline": "middle"},
          "encoding": {"x": {"field": "x", "type": "quantitative", "axis": null}, "y": {"field": "y", "type": "quantitative", "axis": null}, "text": {"field": "text"}}
        },
        {
          "data": {"name": "tb"},
          "transform": [{"filter": "datum.kind == 'labelLeft'"}],
          "mark": {"type": "text", "fontSize": 20, "color": "black", "align": "left", "baseline": "middle"},
          "encoding": {"x": {"field": "x", "type": "quantitative", "axis": null}, "y": {"field": "y", "type": "quantitative", "axis": null}, "text": {"field": "text"}}
        },
        {
          "data": {"name": "tb"},
          "transform": [{"filter": "datum.kind == 'script'"}],
          "mark": {"type": "text", "fontSize": 12, "color": "black", "align": "left", "baseline": "middle"},
          "encoding": {"x": {"field": "x", "type": "quantitative", "axis": null}, "y": {"field": "y", "type": "quantitative", "axis": null}, "text": {"field": "text"}}
        },
        {
          "data": {"name": "tb"},
          "transform": [{"filter": "datum.kind == 'cycle'"}],
          "mark": {"type": "text", "fontSize": 20, "fontWeight": "bold", "color": "black", "align": "left", "baseline": "middle", "clip": true},
          "encoding": {"x": {"field": "x", "type": "quantitative", "axis": null}, "y": {"field": "y", "type": "quantitative", "axis": null}, "text": {"field": "text"}}
        }
      ]
    }
  ]
}
